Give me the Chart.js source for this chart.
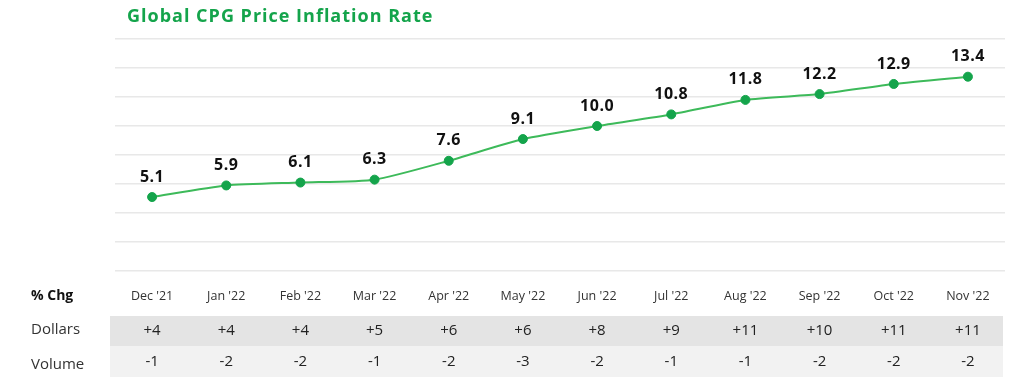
<!DOCTYPE html>
<html>
<head>
<meta charset="utf-8">
<script src="https://cdn.jsdelivr.net/npm/chart.js@4"></script>
<style>
  html, body { margin: 0; padding: 0; background: #fff; }
  #wrap { width: 1024px; height: 384px; }
</style>
</head>
<body>
<div id="wrap"><canvas id="myChart"></canvas></div>
<script>
const months = ["Dec '21", "Jan '22", "Feb '22", "Mar '22", "Apr '22", "May '22", "Jun '22", "Jul '22", "Aug '22", "Sep '22", "Oct '22", "Nov '22"];
const inflation = [5.1, 5.9, 6.1, 6.3, 7.6, 9.1, 10.0, 10.8, 11.8, 12.2, 12.9, 13.4];
const dollars = [4, 4, 4, 5, 6, 6, 8, 9, 11, 10, 11, 11];
const volume = [-1, -2, -2, -1, -2, -3, -2, -1, -1, -2, -2, -2];

const green = "#14a44b";
const fmtChg = v => (v > 0 ? "+" : "") + v;

// title, value labels and the % Chg table underneath
const extras = {
  id: "extras",
  afterDatasetsDraw(chart) {
    const ctx = chart.ctx;
    const area = chart.chartArea;
    const xs = chart.scales.x;
    ctx.save();

    ctx.fillStyle = green;
    ctx.font = "bold 18px 'Open Sans'";
    ctx.letterSpacing = "1px";
    ctx.textAlign = "left";
    ctx.textBaseline = "middle";
    ctx.fillText("Global CPG Price Inflation Rate", 127, 17);

    // value labels above points
    ctx.fillStyle = "#111";
    ctx.font = "bold 16px 'Open Sans'";
    ctx.letterSpacing = "0.5px";
    ctx.textAlign = "center";
    chart.getDatasetMeta(0).data.forEach((pt, i) => {
      ctx.fillText(inflation[i].toFixed(1), pt.x, pt.y - 20);
    });
    ctx.letterSpacing = "0px";

    // table rows
    const left = area.left - 5, right = area.right - 2;
    ctx.fillStyle = "#e4e4e4";
    ctx.fillRect(left, 316, right - left, 30);
    ctx.fillStyle = "#f2f2f2";
    ctx.fillRect(left, 346, right - left, 31);

    ctx.textAlign = "left";
    ctx.fillStyle = "#111";
    ctx.font = "bold 14px 'Open Sans'";
    ctx.fillText("% Chg", 31, 296);
    ctx.font = "15px 'Open Sans'";
    ctx.fillStyle = "#333";
    ctx.fillText("Dollars", 31, 330);
    ctx.fillText("Volume", 31, 365);

    ctx.textAlign = "center";
    ctx.fillStyle = "#222";
    ctx.font = "15px 'Open Sans'";
    months.forEach((m, i) => {
      const x = xs.getPixelForValue(i);
      ctx.fillText(fmtChg(dollars[i]), x, 331);
      ctx.fillText(fmtChg(volume[i]), x, 362);
    });
    ctx.restore();
  }
};

const ctx = document.getElementById("myChart").getContext("2d");
const myChart = new Chart(ctx, {
  type: "line",
  data: {
    labels: months,
    datasets: [{
      data: inflation,
      borderColor: "#3dba5a",
      borderWidth: 2,
      tension: 0.2,
      pointRadius: 4.5,
      pointBackgroundColor: green,
      pointBorderColor: green,
      pointBorderWidth: 1
    }]
  },
  options: {
    responsive: true,
    maintainAspectRatio: false,
    animation: false,
    layout: { padding: { left: 115, right: 19, top: 39, bottom: 0 } },
    plugins: { legend: { display: false }, tooltip: { enabled: false } },
    scales: {
      x: {
        offset: true,
        grid: { display: false },
        border: { display: false },
        ticks: { color: "#333", font: { family: "'Open Sans'", size: 12.5 }, padding: 10, maxRotation: 0 },
        afterFit(scale) { scale.height = 113; }
      },
      y: {
        min: 0,
        max: 16,
        ticks: { stepSize: 2, display: false },
        grid: { color: "#e8e8e8", lineWidth: 1.5, drawTicks: false },
        border: { display: false },
        afterFit(scale) { scale.width = 0; }
      }
    }
  },
  plugins: [extras]
});
</script>
</body>
</html>
